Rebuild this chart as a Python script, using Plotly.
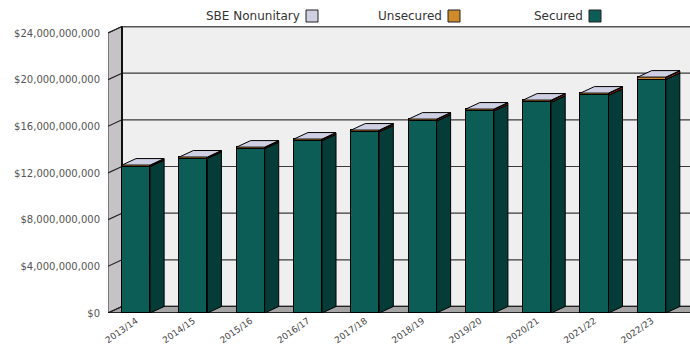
import plotly.graph_objects as go

# Assessed values by fiscal year (billions of dollars)
years = ["2013/14", "2014/15", "2015/16", "2016/17", "2017/18",
         "2018/19", "2019/20", "2020/21", "2021/22", "2022/23"]
secured = [12.55, 13.24, 14.08, 14.76, 15.52, 16.45, 17.30, 18.06, 18.65, 20.01]
unsecured = [0.10, 0.10, 0.11, 0.12, 0.13, 0.14, 0.15, 0.16, 0.17, 0.18]
sbe_nonunitary = [0.03, 0.03, 0.03, 0.03, 0.03, 0.03, 0.03, 0.03, 0.03, 0.03]
y_ticks = [0, 4, 8, 12, 16, 20, 24]
y_tick_text = ["$0", "$4,000,000,000", "$8,000,000,000", "$12,000,000,000",
               "$16,000,000,000", "$20,000,000,000", "$24,000,000,000"]

B = 1e9
W, H = 690, 348
ML, MR, MT, MB = 108, 0, 26, 35
PW, PH = W - ML - MR, H - MT - MB

X0 = -0.49
PX_PER_X = 57.3
X1 = X0 + PW / PX_PER_X
Y_TOP = 24 * B * PH / 280.0
PX_PER_Y = PH / Y_TOP

DX = 14 / PX_PER_X          # depth offset in x units
DY = 6.5 / PX_PER_Y         # depth offset in y units
BW = 0.49                   # bar width

C_SEC, C_SEC_SIDE = "#0c5d55", "#063c37"
C_UNS, C_UNS_SIDE = "#d08a2e", "#7a2a14"
C_SBE, C_SBE_SIDE = "#cfcfe4", "#9c9cb4"
FONT = "DejaVu Sans, Liberation Sans, Arial"

xs = list(range(len(years)))

fig = go.Figure()

# front faces, stacked
for name, vals, col in [("Secured", secured, C_SEC),
                        ("Unsecured", unsecured, C_UNS),
                        ("SBE Nonunitary", sbe_nonunitary, C_SBE)]:
    fig.add_trace(go.Bar(x=xs, y=[v * B for v in vals], width=BW, name=name,
                         marker=dict(color=col, line=dict(color="#000", width=1)),
                         showlegend=False, hoverinfo="skip"))


def side_polys(lo, hi):
    px, py = [], []
    for i, (a, b) in enumerate(zip(lo, hi)):
        xr = i + BW / 2
        px += [xr, xr + DX, xr + DX, xr, xr, None]
        py += [a * B, a * B + DY, b * B + DY, b * B, a * B, None]
    return px, py


base = [0.0] * len(years)
top_sec = [s for s in secured]
top_uns = [s + u for s, u in zip(secured, unsecured)]
top_all = [s + u + e for s, u, e in zip(secured, unsecured, sbe_nonunitary)]

for lo, hi, col in [(base, top_sec, C_SEC_SIDE), (top_sec, top_uns, C_UNS_SIDE),
                    (top_uns, top_all, C_SBE_SIDE)]:
    px, py = side_polys(lo, hi)
    fig.add_trace(go.Scatter(x=px, y=py, mode="lines", fill="toself", fillcolor=col,
                             line=dict(color="#000", width=1), showlegend=False,
                             hoverinfo="skip"))

# top faces
tx, ty = [], []
for i, t in enumerate(top_all):
    xl, xr = i - BW / 2, i + BW / 2
    tx += [xl, xr, xr + DX, xl + DX, xl, None]
    ty += [t * B, t * B, t * B + DY, t * B + DY, t * B, None]
fig.add_trace(go.Scatter(x=tx, y=ty, mode="lines", fill="toself", fillcolor=C_SBE,
                         line=dict(color="#000", width=1), showlegend=False,
                         hoverinfo="skip"))

shapes = []
# back wall
shapes.append(dict(type="rect", xref="x", yref="y", x0=X0 + DX, x1=X1 + 1, y0=DY,
                   y1=24 * B + DY, fillcolor="#efefef", line=dict(color="#555", width=2),
                   layer="below"))
# left wall
shapes.append(dict(type="path", xref="x", yref="y",
                   path=f"M {X0},{0} L {X0 + DX},{DY} L {X0 + DX},{24 * B + DY} L {X0},{24 * B} Z",
                   fillcolor="#c6c3c6", line=dict(color="#333", width=1), layer="below"))
# floor
shapes.append(dict(type="path", xref="x", yref="y",
                   path=f"M {X0},{0} L {X1 + 1},{0} L {X1 + 1},{DY} L {X0 + DX},{DY} Z",
                   fillcolor="#a4a4a4", line=dict(color="#222", width=1), layer="below"))
# back-wall gridlines and left-wall ticks
for t in y_ticks[1:-1]:
    shapes.append(dict(type="line", xref="x", yref="y", x0=X0 + DX, x1=X1 + 1,
                       y0=t * B + DY, y1=t * B + DY, line=dict(color="#3a3a3a", width=1.2),
                       layer="below"))
for t in y_ticks:
    shapes.append(dict(type="line", xref="x", yref="y", x0=X0, x1=X0 + DX,
                       y0=t * B, y1=t * B + DY, line=dict(color="#222", width=1.2),
                       layer="below"))
shapes.append(dict(type="line", xref="x", yref="y", x0=X0 + DX, x1=X0 + DX,
                   y0=DY, y1=24 * B + DY, line=dict(color="#111", width=2), layer="below"))
shapes.append(dict(type="line", xref="x", yref="y", x0=X0, x1=X1 + 1,
                   y0=0, y1=0, line=dict(color="#111", width=1.5), layer="below"))


def pxx(p):
    return (p - ML) / PW


def pxy(p):
    return (H - MB - p) / PH


annotations = []
legend_items = [("SBE Nonunitary", 300, C_SBE), ("Unsecured", 442, C_UNS), ("Secured", 583, C_SEC)]
for label, xend, col in legend_items:
    annotations.append(dict(xref="paper", yref="paper", x=pxx(xend + 2), y=pxy(16),
                            text=label, showarrow=False, xanchor="right", yanchor="middle",
                            font=dict(family=FONT, size=12, color="#333")))
    shapes.append(dict(type="rect", xref="paper", yref="paper", x0=pxx(xend + 6),
                       x1=pxx(xend + 18), y0=pxy(22), y1=pxy(10), fillcolor=col,
                       line=dict(color="#222", width=1)))

fig.update_layout(
    width=W, height=H,
    margin=dict(l=ML, r=MR, t=MT, b=MB, pad=0),
    paper_bgcolor="#fff", plot_bgcolor="#fff",
    barmode="stack", bargap=0,
    showlegend=False,
    shapes=shapes, annotations=annotations,
    font=dict(family=FONT, color="#444"),
    xaxis=dict(range=[X0, X1], tickmode="array", tickvals=xs, ticktext=years,
               tickangle=-35, showgrid=False, zeroline=False, showline=False,
               ticks="", tickfont=dict(size=9, color="#444")),
    yaxis=dict(range=[0, Y_TOP], tickmode="array", tickvals=[t * B for t in y_ticks],
               ticktext=y_tick_text, showgrid=False, zeroline=False, showline=False,
               ticks="", ticklabelstandoff=7, tickfont=dict(size=10, color="#555")),
)

fig.write_html("out.html")
